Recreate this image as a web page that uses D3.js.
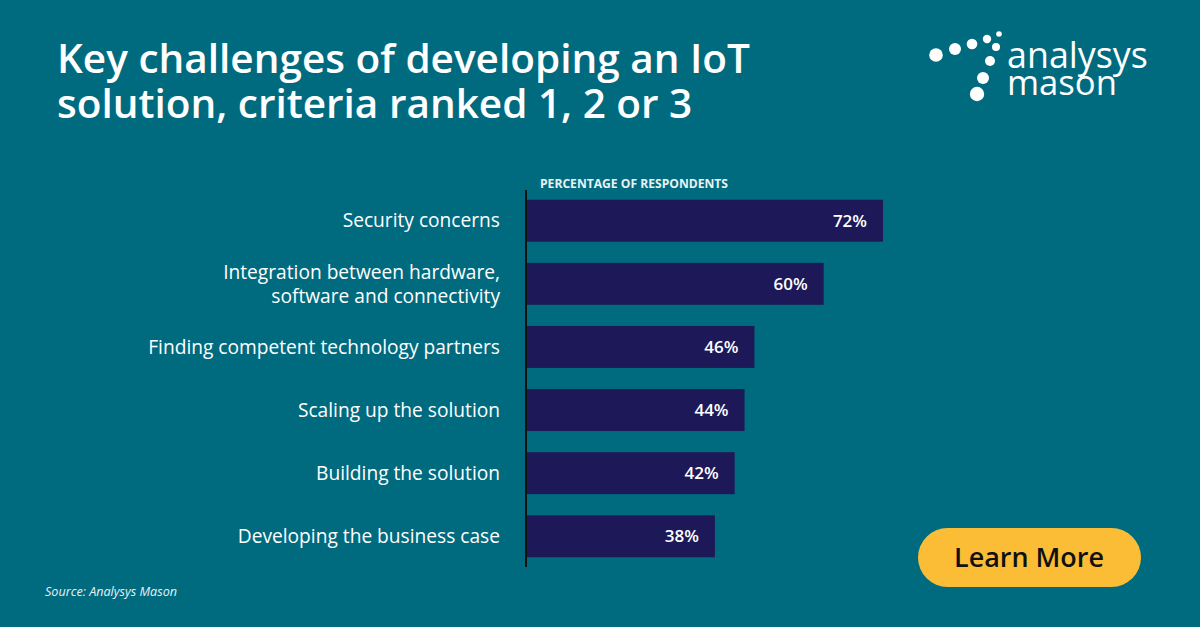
<!DOCTYPE html>
<html>
<head>
<meta charset="utf-8">
<script src="https://cdn.jsdelivr.net/npm/d3@7"></script>
<style>
  html, body { margin: 0; padding: 0; background: #006b7f; }
  svg { display: block; }
  text { font-family: "Open Sans", "Noto Sans", sans-serif; }
</style>
</head>
<body>
<div id="chart"></div>
<script>
// Chart data
const categories = [
    ["Security concerns"],
    ["Integration between hardware,", "software and connectivity"],
    ["Finding competent technology partners"],
    ["Scaling up the solution"],
    ["Building the solution"],
    ["Developing the business case"]
];
const values = [72, 60, 46, 44, 42, 38];
const titleLines = ["Key challenges of developing an IoT", "solution, criteria ranked 1, 2 or 3"];
const axisTitle = "PERCENTAGE OF RESPONDENTS";
const sourceText = "Source: Analysys Mason";

const width = 1200, height = 627;
const bg = "#006b7f", barColor = "#1d1959";

const svg = d3.select("#chart").append("svg")
    .attr("width", width)
    .attr("height", height);

svg.append("rect").attr("width", width).attr("height", height).attr("fill", bg);

// shrink/grow font so text fits a target width
function fitText(sel, targetWidth) {
    const node = sel.node();
    const size = parseFloat(sel.attr("font-size"));
    const w = node.getComputedTextLength();
    if (w > 0) sel.attr("font-size", (size * targetWidth / w).toFixed(2));
    return sel;
}

// Title
const title = svg.append("g");
titleLines.forEach((line, i) => {
    const t = title.append("text")
        .attr("x", 57)
        .attr("y", 73 + i * 45)
        .attr("fill", "#fff")
        .attr("font-size", 40)
        .attr("font-weight", 600)
        .text(line);
    if (i === 0) fitText(t, 693);
});
const tsize = title.select("text").attr("font-size");
title.selectAll("text").attr("font-size", tsize);

// Scales
const x = d3.scaleLinear().domain([0, 72]).range([527, 883]);
const y = d3.scaleBand()
    .domain(d3.range(categories.length))
    .range([189, 568])
    .paddingInner(0.335)
    .paddingOuter(0.17);

const chart = svg.append("g");

chart.selectAll(".bar")
    .data(values)
    .enter()
    .append("rect")
    .attr("class", "bar")
    .attr("x", x(0))
    .attr("y", (d, i) => y(i))
    .attr("width", d => x(d) - x(0))
    .attr("height", y.bandwidth())
    .attr("fill", barColor);

// value labels
chart.selectAll(".val")
    .data(values)
    .enter()
    .append("text")
    .attr("class", "val")
    .attr("x", d => x(d) - 16)
    .attr("y", (d, i) => y(i) + y.bandwidth() / 2)
    .attr("dy", "0.36em")
    .attr("text-anchor", "end")
    .attr("fill", "#fff")
    .attr("font-size", 17)
    .attr("font-weight", 600)
    .text(d => d + "%");

// category labels
const labelSize = 19;
const labels = chart.selectAll(".cat")
    .data(categories)
    .enter()
    .append("text")
    .attr("class", "cat")
    .attr("text-anchor", "end")
    .attr("fill", "#fff")
    .attr("font-size", labelSize)
    .attr("font-weight", 500);

labels.each(function(lines, i) {
    const cy = y(i) + y.bandwidth() / 2;
    const lh = 24;
    lines.forEach((l, j) => {
        d3.select(this).append("tspan")
            .attr("x", 500)
            .attr("y", cy + (j - (lines.length - 1) / 2) * lh)
            .attr("dy", "0.35em")
            .text(l);
    });
});
// match width of longest label to reference
const longest = labels.filter((d, i) => i === 2);
const lw = longest.node().getComputedTextLength();
if (lw > 0) labels.attr("font-size", (labelSize * 352 / lw).toFixed(2));

// axis line
chart.append("line")
    .attr("x1", 526).attr("x2", 526)
    .attr("y1", 190).attr("y2", 567)
    .attr("stroke", "#111")
    .attr("stroke-width", 2);

// axis title
fitText(chart.append("text")
    .attr("x", 540)
    .attr("y", 188)
    .attr("fill", "#e8f1f3")
    .attr("font-size", 11.5)
    .attr("font-weight", 700)
    .text(axisTitle), 188);

// source
fitText(svg.append("text")
    .attr("x", 45)
    .attr("y", 596)
    .attr("fill", "#e8f1f3")
    .attr("font-size", 13)
    .attr("font-style", "italic")
    .text(sourceText), 132);

// Logo
const dots = [
    [936, 55, 6.8], [955, 49, 6.0], [972, 44, 5.3], [987, 39, 4.2], [999, 34, 2.8],
    [996, 47, 4.0], [990, 61, 5.0], [983, 78, 6.0], [977, 94, 7.2]
];
svg.append("g").selectAll("circle")
    .data(dots)
    .enter()
    .append("circle")
    .attr("cx", d => d[0]).attr("cy", d => d[1]).attr("r", d => d[2])
    .attr("fill", "#fff");

fitText(svg.append("text")
    .attr("x", 1007).attr("y", 68)
    .attr("fill", "#fff")
    .attr("font-size", 26)
    .attr("font-family", "'DejaVu Sans', sans-serif")
    .attr("font-weight", 400)
    .text("analysys"), 141);
fitText(svg.append("text")
    .attr("x", 1007).attr("y", 95)
    .attr("fill", "#fff")
    .attr("font-size", 26)
    .attr("font-family", "'DejaVu Sans', sans-serif")
    .attr("font-weight", 400)
    .text("mason"), 110);

// Learn More button
svg.append("rect")
    .attr("x", 918).attr("y", 528)
    .attr("width", 223).attr("height", 59)
    .attr("rx", 29.5)
    .attr("fill", "#fbbd36");
fitText(svg.append("text")
    .attr("x", 1029).attr("y", 567)
    .attr("text-anchor", "middle")
    .attr("fill", "#111")
    .attr("font-size", 28)
    .attr("font-weight", 600)
    .text("Learn More"), 150);
</script>
</body>
</html>
